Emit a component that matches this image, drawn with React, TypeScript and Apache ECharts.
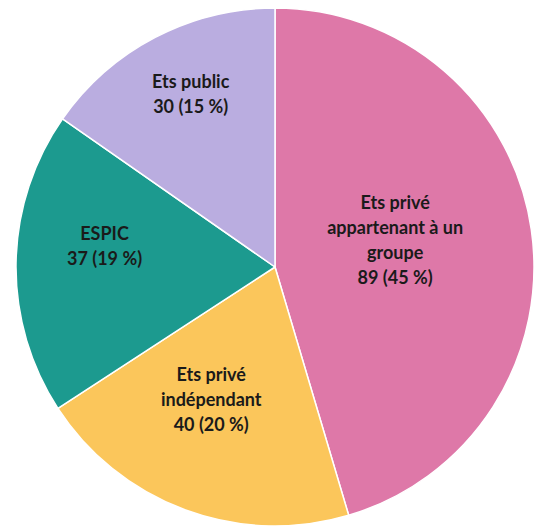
import React, { useEffect, useRef } from "react";
import * as echarts from "echarts";

const categories = [
  "Ets privé\nappartenant à un\ngroupe",
  "Ets privé\nindépendant",
  "ESPIC",
  "Ets public",
];
const values = [89, 40, 37, 30];
const colors = ["#DE78A8", "#FBC65B", "#1C9A8F", "#BAADE0"];
const labelOffsets = [
  [-11, -8],
  [-18, 8],
  [-38, -19],
  [-23, -56],
];

export default function App() {
  const ref = useRef<HTMLDivElement>(null);
  useEffect(() => {
    document.body.style.margin = "0";
    const chart = echarts.init(ref.current!, null, { renderer: "svg" });
    const total = values.reduce((a, b) => a + b, 0);
    chart.setOption({
      animation: false,
      series: [
        {
          type: "pie",
          center: [275, 267],
          radius: [0, 259],
          startAngle: 90,
          clockwise: true,
          data: categories.map((name, i) => ({
            name,
            value: values[i],
            itemStyle: { color: colors[i] },
          })),
          itemStyle: { borderColor: "#ffffff", borderWidth: 1.5 },
          label: {
            show: true,
            position: "inside",
            color: "#1a1a1a",
            fontFamily: "Lato",
            fontWeight: "bold",
            fontSize: 18,
            lineHeight: 25,
            align: "center",
            formatter: (p: any) =>
              `${p.name}\n${p.value} (${Math.round((p.value / total) * 100)} %)`,
          },
          labelLayout: (p: any) => ({
            dx: labelOffsets[p.dataIndex][0],
            dy: labelOffsets[p.dataIndex][1],
          }),
          labelLine: { show: false },
          emphasis: { disabled: true },
        },
      ],
    });
    return () => chart.dispose();
  }, []);
  return <div ref={ref} style={{ width: 538, height: 526 }} />;
}
